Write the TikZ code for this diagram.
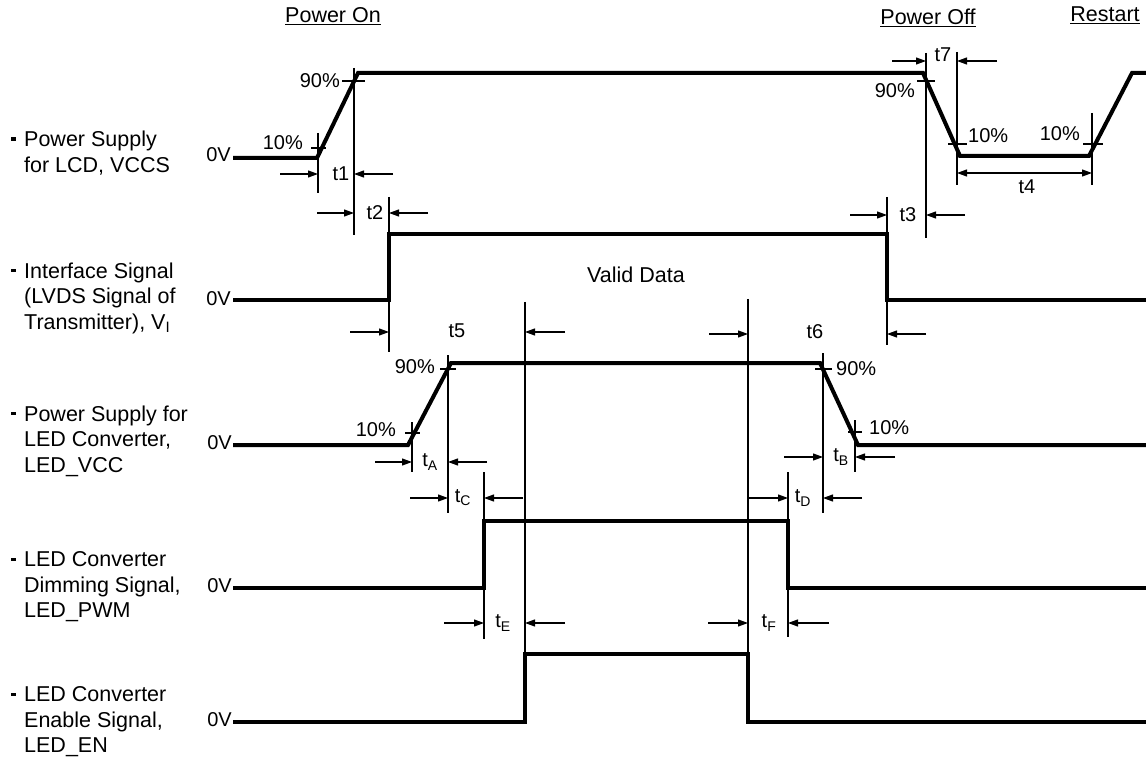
\documentclass[tikz,border=0pt]{standalone}
\usepackage{fontspec}
\setmainfont{Liberation Sans}
\usetikzlibrary{arrows.meta}
\newcommand{\bulletdash}{\llap{\rule[6pt]{5pt}{3.2pt}\hspace{8pt}}}
\tikzset{
  sig/.style={line width=4pt, line join=miter, line cap=butt},
  thinl/.style={line width=1.1pt},
  dimarr/.style={line width=1.1pt, -{Triangle[length=10pt,width=7pt]}},
  dimboth/.style={line width=1.1pt, {Triangle[length=10pt,width=7pt]}-{Triangle[length=10pt,width=7pt]}},
  lbl/.style={inner sep=0pt, font=\fontsize{20}{24}\selectfont},
  big/.style={inner sep=0pt, font=\fontsize{21.5}{25.5}\selectfont},
  side/.style={big, align=left, anchor=west},
}
\begin{document}
\begin{tikzpicture}[x=1pt,y=-1pt]
\useasboundingbox (0,0) rectangle (1146,759);

% headers
\node[big,anchor=base] (hon) at (333,23) {\underline{Power On}};
\node[big,anchor=base] (hoff) at (928,25) {\underline{Power Off}};
\node[big,anchor=base] (hrs) at (1105,22) {\underline{Restart}};

% side labels
\node[side] (s1) at (24,153) {\bulletdash Power Supply\\for LCD, VCCS};
\node[side] (s2) at (24,298) {\bulletdash Interface Signal\\(LVDS Signal of\\Transmitter), V\textsubscript{I}};
\node[side] (s3) at (24,441) {\bulletdash Power Supply for\\LED Converter,\\LED\_VCC};
\node[side] (s4) at (24,587) {\bulletdash LED Converter\\Dimming Signal,\\LED\_PWM};
\node[side] (s5) at (24,722) {\bulletdash LED Converter\\Enable Signal,\\LED\_EN};

% 0V labels
\node[lbl,anchor=east] (z1) at (231,155) {0V};
\node[lbl,anchor=east] (z2) at (231,299) {0V};
\node[lbl,anchor=east] (z3) at (232,443) {0V};
\node[lbl,anchor=east] (z4) at (232,586) {0V};
\node[lbl,anchor=east] (z5) at (232,720) {0V};

% signals
\draw[sig] (233,158) -- (317,158) -- (358,73) -- (923,73) -- (960,156) -- (1089,156) -- (1132,73) -- (1146,73);
\draw[sig] (233,300) -- (389,300) -- (389,234) -- (887,234) -- (887,300) -- (1146,300);
\draw[sig] (233,445) -- (408,445) -- (451,363) -- (820,363) -- (858,445) -- (1146,445);
\draw[sig] (233,588) -- (484,588) -- (484,521) -- (788,521) -- (788,588) -- (1146,588);
\draw[sig] (233,722) -- (525,722) -- (525,654) -- (748,654) -- (748,722) -- (1146,722);

% reference lines and ticks
\draw[thinl] (318,133) -- (318,193);
\draw[thinl] (311,148) -- (326,148);
\draw[thinl] (354,68) -- (354,235);
\draw[thinl] (342,81) -- (365,81);
\draw[thinl] (389,197) -- (389,352);
\draw[thinl] (887,197) -- (887,345);
\draw[thinl] (926,53) -- (926,238);
\draw[thinl] (917,81) -- (935,81);
\draw[thinl] (957,52) -- (957,185);
\draw[thinl] (948,144) -- (967,144);
\draw[thinl] (1092,113) -- (1092,185);
\draw[thinl] (1083,144) -- (1103,144);
\draw[thinl] (525,302) -- (525,654);
\draw[thinl] (748,299) -- (748,654);
\draw[thinl] (412,422) -- (412,472);
\draw[thinl] (405,433) -- (420,433);
\draw[thinl] (448,355) -- (448,513);
\draw[thinl] (440,369) -- (456,369);
\draw[thinl] (484,472) -- (484,639);
\draw[thinl] (823,353) -- (823,513);
\draw[thinl] (815,369) -- (832,369);
\draw[thinl] (855,420) -- (855,472);
\draw[thinl] (848,432) -- (862,432);
\draw[thinl] (788,472) -- (788,637);

% percent labels
\node[lbl,anchor=east] (p1) at (340,81) {90\%};
\node[lbl,anchor=east] (p2) at (303,143) {10\%};
\node[lbl,anchor=east] (p3) at (915,91) {90\%};
\node[lbl,anchor=west] (p4) at (968,136) {10\%};
\node[lbl,anchor=east] (p5) at (1080,134) {10\%};
\node[lbl,anchor=east] (p6) at (435,367) {90\%};
\node[lbl,anchor=east] (p7) at (396,430) {10\%};
\node[lbl,anchor=west] (p8) at (836,369) {90\%};
\node[lbl,anchor=west] (p9) at (869,428) {10\%};

\node[big] (vd) at (636,275) {Valid Data};

% timing dimensions
\draw[dimarr] (280,174) -- (318,174); \node[lbl] (t1) at (341,174) {t1}; \draw[dimarr] (393,174) -- (354,174);
\draw[dimarr] (317,213) -- (354,213); \node[lbl] (t2) at (375,213) {t2}; \draw[dimarr] (428,213) -- (389,213);
\draw[dimarr] (850,215) -- (887,215); \node[lbl] (t3) at (908,215) {t3}; \draw[dimarr] (965,215) -- (926,215);
\draw[dimarr] (892,61) -- (926,61); \node[lbl] (t7) at (943,55) {t7}; \draw[dimarr] (997,61) -- (957,61);
\draw[dimboth] (957,173) -- (1092,173); \node[lbl] (t4) at (1027,187) {t4};
\draw[dimarr] (350,332) -- (389,332); \node[lbl] (t5) at (457,331) {t5}; \draw[dimarr] (565,332) -- (525,332);
\draw[dimarr] (709,334) -- (748,334); \node[lbl] (t6) at (815,332) {t6}; \draw[dimarr] (926,334) -- (887,334);
\draw[dimarr] (375,462) -- (412,462); \node[lbl] (tA) at (430,462) {t\textsubscript{A}}; \draw[dimarr] (487,462) -- (448,462);
\draw[dimarr] (784,457) -- (823,457); \node[lbl] (tB) at (841,457) {t\textsubscript{B}}; \draw[dimarr] (895,457) -- (855,457);
\draw[dimarr] (410,498) -- (448,498); \node[lbl] (tC) at (463,498) {t\textsubscript{C}}; \draw[dimarr] (523,498) -- (484,498);
\draw[dimarr] (748,498) -- (788,498); \node[lbl] (tD) at (803,498) {t\textsubscript{D}}; \draw[dimarr] (862,498) -- (823,498);
\draw[dimarr] (444,623) -- (484,623); \node[lbl] (tE) at (503,623) {t\textsubscript{E}}; \draw[dimarr] (565,623) -- (525,623);
\draw[dimarr] (708,623) -- (748,623); \node[lbl] (tF) at (769,623) {t\textsubscript{F}}; \draw[dimarr] (829,623) -- (788,623);
\end{tikzpicture}
\end{document}
